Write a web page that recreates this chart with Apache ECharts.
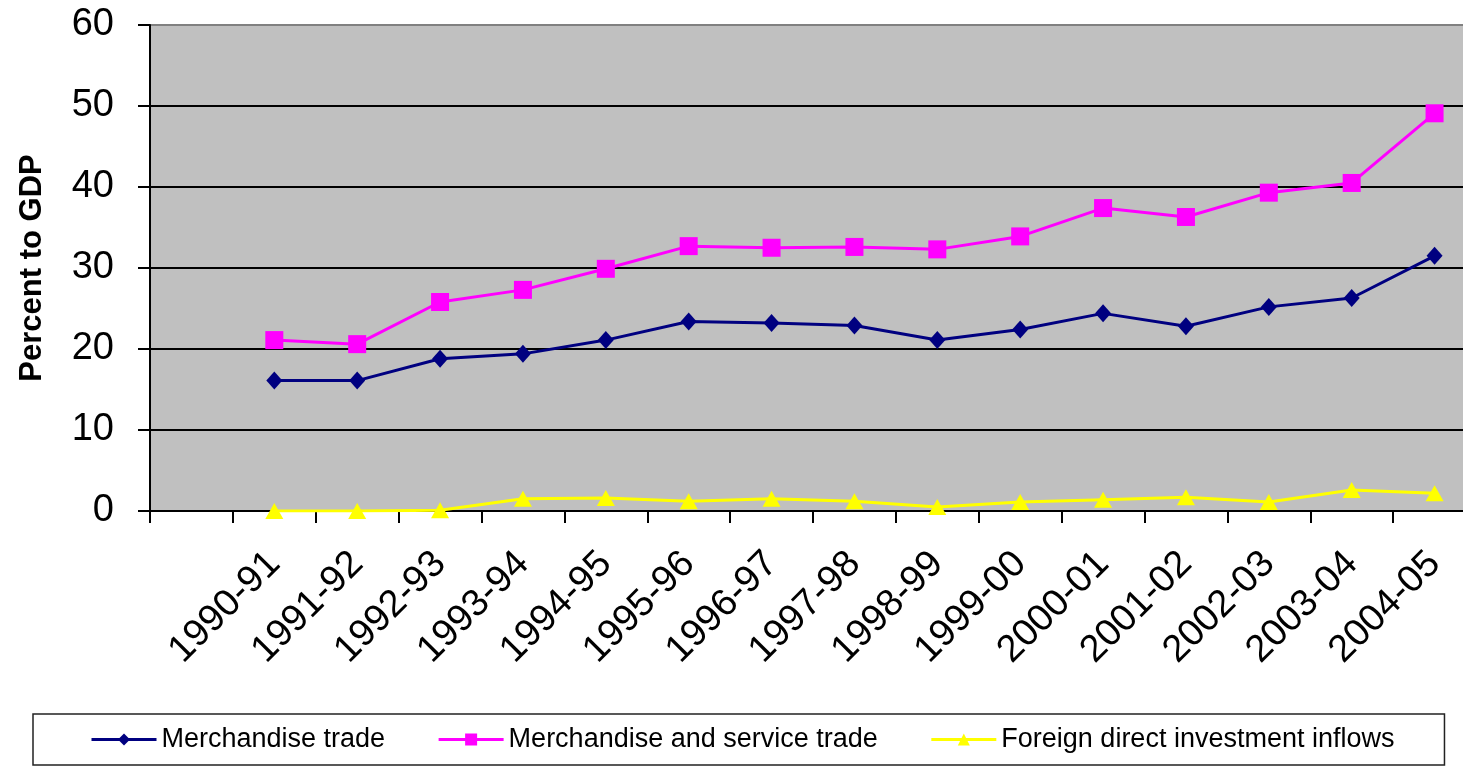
<!DOCTYPE html>
<html>
<head>
<meta charset="utf-8">
<script src="https://cdn.jsdelivr.net/npm/echarts@6/dist/echarts.min.js"></script>
<style>
html,body{margin:0;padding:0;background:#fff;overflow:hidden;width:1463px;height:770px;}
#chart{width:1480px;height:770px;}
</style>
</head>
<body>
<div id="chart"></div>
<script>
var categories = ['', '1990-91', '1991-92', '1992-93', '1993-94', '1994-95', '1995-96', '1996-97', '1997-98', '1998-99', '1999-00', '2000-01', '2001-02', '2002-03', '2003-04', '2004-05'];
var merchandiseTrade = [null, 16.1, 16.1, 18.8, 19.4, 21.1, 23.4, 23.2, 22.9, 21.1, 22.4, 24.4, 22.8, 25.2, 26.3, 31.5];
var merchandiseServiceTrade = [null, 21.1, 20.6, 25.8, 27.3, 29.9, 32.7, 32.5, 32.6, 32.3, 33.9, 37.4, 36.3, 39.3, 40.5, 49.1];
var fdiInflows = [null, 0.0, 0.0, 0.1, 1.5, 1.6, 1.2, 1.5, 1.2, 0.5, 1.1, 1.4, 1.7, 1.1, 2.6, 2.2];
var yTicks = {min: 0, max: 60, interval: 10};

var font = 'Liberation Sans, Arial, sans-serif';
var chart = echarts.init(document.getElementById('chart'));
chart.setOption({
  animation: false,
  backgroundColor: '#ffffff',
  grid: {
    left: 150, top: 25, width: 1326, height: 486,
    show: true, backgroundColor: '#c0c0c0', borderColor: '#808080', borderWidth: 2
  },
  legend: {
    left: 33, top: 714,
    padding: [12, 50, 12, 57],
    borderColor: '#222', borderWidth: 1.5,
    itemGap: 52, itemWidth: 65, itemHeight: 15,
    lineStyle: {width: 3},
    textStyle: {fontFamily: font, fontSize: 27, color: '#000'},
    data: ['Merchandise trade', 'Merchandise and service trade', 'Foreign direct investment inflows']
  },
  xAxis: {
    type: 'category',
    data: categories,
    boundaryGap: true,
    axisLine: {lineStyle: {color: '#000', width: 2}},
    axisTick: {show: true, length: 12, lineStyle: {color: '#000', width: 2}},
    axisLabel: {rotate: 45, interval: 0, margin: 47, fontFamily: font, fontSize: 38, color: '#000'},
    splitLine: {show: false}
  },
  yAxis: {
    type: 'value',
    min: yTicks.min, max: yTicks.max, interval: yTicks.interval,
    name: 'Percent to GDP',
    nameLocation: 'middle',
    nameGap: 102,
    nameRotate: 90,
    nameTextStyle: {fontFamily: font, fontSize: 31, fontWeight: 'bold', color: '#000'},
    axisLine: {show: true, lineStyle: {color: '#000', width: 2}},
    axisTick: {show: true, length: 12, lineStyle: {color: '#000', width: 2}},
    axisLabel: {margin: 36, fontFamily: font, fontSize: 38, color: '#000'},
    splitLine: {show: true, lineStyle: {color: ['#000', '#000', '#000', '#000', '#000', '#000', '#808080'], width: 2}}
  },
  series: [
    {
      name: 'Merchandise trade', type: 'line', data: merchandiseTrade,
      symbol: 'diamond', symbolSize: [16, 18], showAllSymbol: true,
      itemStyle: {color: '#000080'},
      lineStyle: {color: '#000080', width: 3}
    },
    {
      name: 'Merchandise and service trade', type: 'line', data: merchandiseServiceTrade,
      symbol: 'rect', symbolSize: 18, showAllSymbol: true,
      itemStyle: {color: '#ff00ff'},
      lineStyle: {color: '#ff00ff', width: 3}
    },
    {
      name: 'Foreign direct investment inflows', type: 'line', data: fdiInflows,
      symbol: 'triangle', symbolSize: [18, 16], showAllSymbol: true,
      itemStyle: {color: '#ffff00'},
      lineStyle: {color: '#ffff00', width: 3}
    }
  ]
});
</script>
</body>
</html>
